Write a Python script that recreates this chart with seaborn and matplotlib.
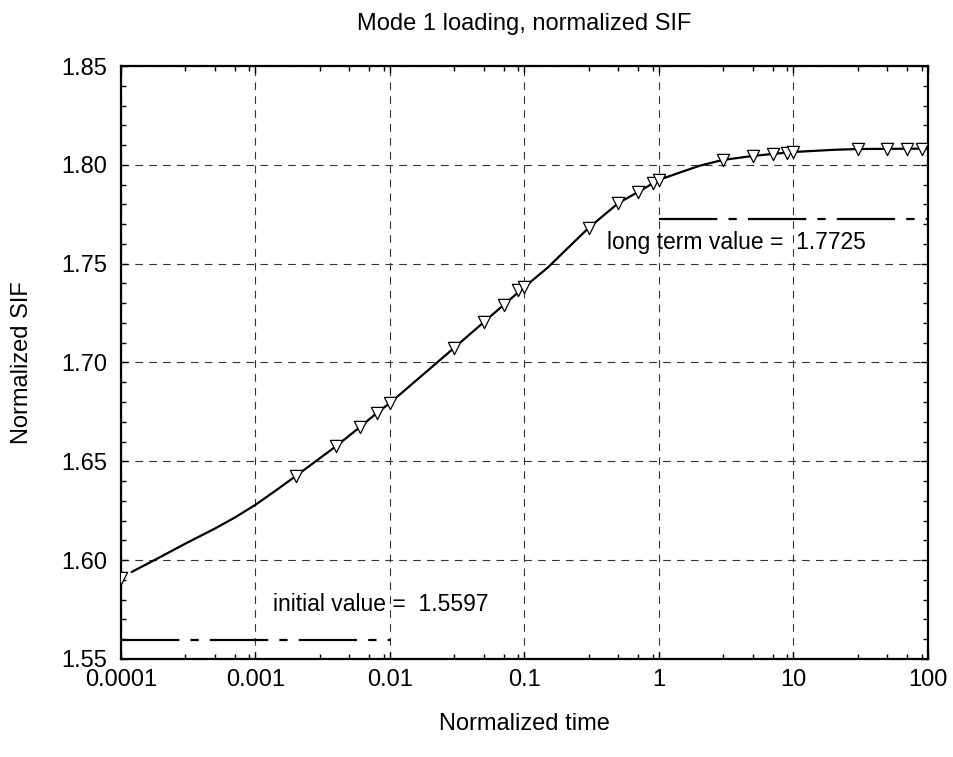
import numpy as np
import pandas as pd
import seaborn as sns
import matplotlib.pyplot as plt
from matplotlib.ticker import LogLocator, MultipleLocator, FixedLocator, FixedFormatter

# computed points (markers)
t_pts = [1e-4, 0.002, 0.004, 0.006, 0.008, 0.01, 0.03, 0.05, 0.07, 0.09, 0.1,
         0.3, 0.5, 0.7, 0.9, 1, 3, 5, 7, 9, 10, 30, 50, 70, 90]
sif_pts = [1.5912, 1.6426, 1.6578, 1.6674, 1.6745, 1.6795, 1.7074, 1.7205, 1.7291, 1.7367, 1.7382,
           1.7681, 1.7807, 1.7863, 1.7908, 1.7924, 1.8025, 1.8045, 1.8055, 1.8060, 1.8065,
           1.8081, 1.8081, 1.8081, 1.8081]

# smooth curve
t_curve = [1.2e-4, 2e-4, 3e-4, 5e-4, 7e-4, 1e-3, 1.4e-3, 2e-3, 4e-3, 6e-3, 8e-3, 1e-2, 3e-2, 5e-2,
           7e-2, 0.1, 0.15, 0.2, 0.3, 0.5, 0.7, 1, 1.5, 2, 2.5, 3, 5, 7, 10, 20, 30, 50, 100]
sif_curve = [1.5940, 1.6019, 1.6083, 1.6160, 1.6215, 1.6280, 1.6350, 1.6426, 1.6578, 1.6674,
             1.6745, 1.6795, 1.7074, 1.7205, 1.7291, 1.7382, 1.7482, 1.7565, 1.7681, 1.7807,
             1.7863, 1.7924, 1.7966, 1.7995, 1.8012, 1.8025, 1.8045, 1.8055, 1.8065, 1.8076,
             1.8080, 1.8081, 1.8082]

initial_value = 1.5597
long_term_value = 1.7725
initial_span = [1e-4, 1e-2]
long_term_span = [1, 100]

x_ticks = [1e-4, 1e-3, 1e-2, 1e-1, 1, 10, 100]
x_tick_labels = ["0.0001", "0.001", "0.01", "0.1", "1", "10", "100"]

df_pts = pd.DataFrame({"t": t_pts, "sif": sif_pts})
df_curve = pd.DataFrame({"t": t_curve, "sif": sif_curve})

sns.set_style("ticks")
plt.rcParams['font.family'] = ['Liberation Sans', 'DejaVu Sans']
plt.rcParams['lines.scale_dashes'] = False
plt.rcParams['text.color'] = 'black'
plt.rcParams['axes.labelcolor'] = 'black'
plt.rcParams['xtick.color'] = 'black'
plt.rcParams['ytick.color'] = 'black'

fig = plt.figure(figsize=(9.54, 7.57), dpi=100)
ax = fig.add_axes([0.1268, 0.1295, 0.8459, 0.7833])
ax.set_xscale("log")

sns.lineplot(data=df_curve, x="t", y="sif", ax=ax, color="black", lw=1.6, sort=False, zorder=3)
sns.scatterplot(data=df_pts, x="t", y="sif", ax=ax, marker="v", s=8.8 ** 2,
                facecolor="white", edgecolor="black", linewidth=0.9, zorder=4)

ax.plot(initial_span, [initial_value, initial_value], color="black", lw=1.6,
        dashes=(42, 8, 6, 8), zorder=3)
ax.plot(long_term_span, [long_term_value, long_term_value], color="black", lw=1.6,
        dashes=(42, 8, 6, 8), zorder=3)

fs = 17
ax.text(1.35e-3, 1.5775, f"initial value =  {initial_value}", fontsize=16.5, va="center", ha="left")
ax.text(0.41, 1.7607, f"long term value =  {long_term_value}", fontsize=16.5, va="center", ha="left")

ax.set_xlim(1e-4, 100)
ax.set_ylim(1.55, 1.85)
ax.xaxis.set_major_locator(FixedLocator(x_ticks))
ax.xaxis.set_major_formatter(FixedFormatter(x_tick_labels))
ax.xaxis.set_minor_locator(LogLocator(base=10, subs=(3, 5, 7, 9), numticks=20))
ax.yaxis.set_major_locator(MultipleLocator(0.05))
ax.yaxis.set_minor_locator(MultipleLocator(0.01))
ax.yaxis.set_major_formatter(plt.FuncFormatter(lambda v, p: f"{v:.2f}"))

ax.tick_params(which="both", direction="in", top=True, right=True, labelsize=fs)
ax.tick_params(axis="x", pad=7)
ax.tick_params(axis="y", pad=10)
ax.tick_params(which="major", length=5, width=1)
ax.tick_params(which="minor", length=3.5, width=1)
ax.grid(True, which="major", color="0.2", lw=0.8, linestyle=(0, (5.5, 4.5)))

for sp in ax.spines.values():
    sp.set_linewidth(1.6)
    sp.set_color("black")

ax.set_xlabel("Normalized time", fontsize=fs, labelpad=16)
ax.set_ylabel("Normalized SIF", fontsize=fs, labelpad=20)
ax.set_title("Mode 1 loading, normalized SIF", fontsize=fs, pad=26)

fig.savefig("out.png", dpi=100)
